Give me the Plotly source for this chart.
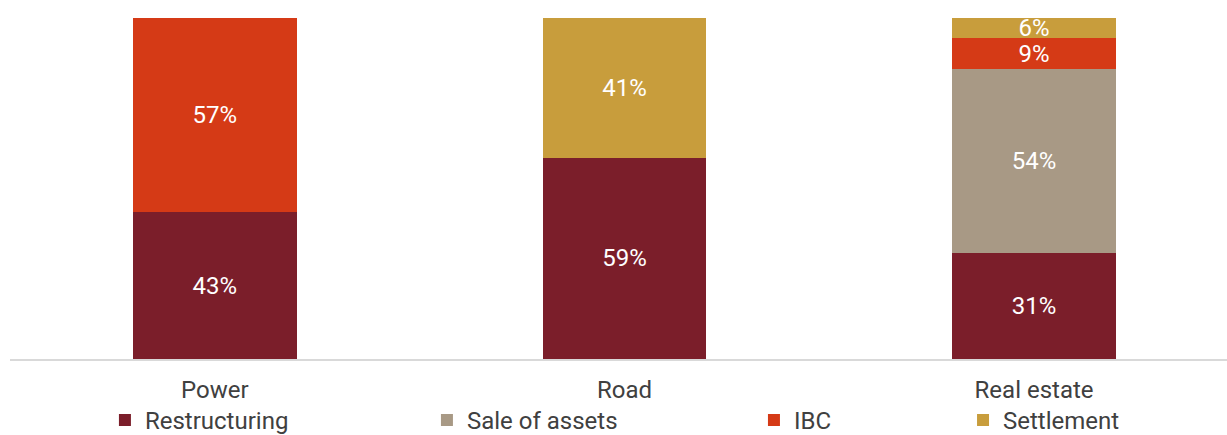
import plotly.graph_objects as go

categories = ["Power", "Road", "Real estate"]
restructuring = [43, 59, 31]
sale_of_assets = [0, 0, 54]
ibc = [57, 0, 9]
settlement = [0, 41, 6]

series = [
    ("Restructuring", restructuring, "#7B1E2A"),
    ("Sale of assets", sale_of_assets, "#A89985"),
    ("IBC", ibc, "#D53A16"),
    ("Settlement", settlement, "#C89D3C"),
]

# legend placement for each series, one legend per series
legend_x = [0.078, 0.3426, 0.6113, 0.7831]

FONT = "Roboto"
SIZE = 24

fig = go.Figure()
for i, (name, vals, color) in enumerate(series):
    fig.add_trace(go.Bar(
        name=name,
        x=categories,
        y=vals,
        marker=dict(color=color, line=dict(width=0)),
        text=[f"{v}%" if v else "" for v in vals],
        textposition="inside",
        insidetextanchor="middle",
        constraintext="none",
        textfont=dict(color="white", size=SIZE, family=FONT),
        width=0.4,
        legend="legend" if i == 0 else f"legend{i+1}",
    ))

legend_common = dict(
    orientation="h",
    yanchor="middle",
    y=-0.18,
    xanchor="left",
    font=dict(size=SIZE, color="#404040", family=FONT),
    bgcolor="rgba(0,0,0,0)",
)

layout_legends = {}
for i, lx in enumerate(legend_x):
    key = "legend" if i == 0 else f"legend{i+1}"
    layout_legends[key] = dict(legend_common, x=lx)

fig.update_layout(
    barmode="stack",
    width=1227,
    height=435,
    margin=dict(l=10, r=0, t=18, b=76, autoexpand=False),
    plot_bgcolor="white",
    paper_bgcolor="white",
    showlegend=True,
    xaxis=dict(
        range=[-0.5, 2.471],
        showgrid=False,
        showline=True,
        linecolor="#D9D9D9",
        linewidth=2,
        ticks="",
        ticklabelstandoff=8,
        tickfont=dict(size=SIZE, color="#404040", family=FONT),
    ),
    yaxis=dict(
        range=[0, 100],
        visible=False,
        showgrid=False,
    ),
    **layout_legends,
)

fig.write_html("out.html")
